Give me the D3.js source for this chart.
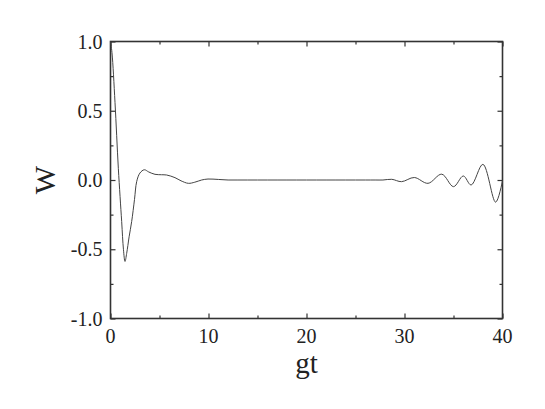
<!DOCTYPE html>
<html>
<head>
<meta charset="utf-8">
<script src="https://cdn.jsdelivr.net/npm/d3@7"></script>
<style>
  html, body { margin: 0; padding: 0; background: #fff; }
  svg { display: block; }
</style>
</head>
<body>
<svg id="chart" width="545" height="409"></svg>
<script>
// ---- data ----
const gt = [0, 0.15, 0.46, 0.8, 1.14, 1.32, 1.48, 1.65, 1.9, 2.16, 2.45, 2.67, 3.0, 3.45, 3.9, 4.54, 5.2, 5.73, 6.58, 7.2, 7.94, 8.6, 9.3, 9.95, 11, 12,
  13, 14, 15, 16, 17, 18, 19, 20, 21, 22, 23, 24, 25, 26, 27, 27.8, 28.7, 29.7, 31.0, 32.4, 33.8, 35.0, 36.0, 36.8, 38.0, 39.3, 40];
const W = [1.0, 0.92, 0.56, 0.084, -0.30, -0.50, -0.588, -0.53, -0.41, -0.30, -0.14, -0.012, 0.05, 0.074, 0.058, 0.041, 0.038, 0.036, 0.017, -0.006, -0.024, -0.016, 0.0, 0.007, 0.004, 0.0,
  0, 0, 0, 0, 0, 0, 0, 0, 0, 0, 0, 0, 0, 0, 0, 0.0, 0.005, -0.012, 0.018, -0.024, 0.042, -0.048, 0.029, -0.036, 0.113, -0.16, -0.005];
const xMajor = [0, 10, 20, 30, 40];
const xMinor = [5, 15, 25, 35];
const yMajor = [-1.0, -0.5, 0.0, 0.5, 1.0];
const yMinor = [-0.75, -0.25, 0.25, 0.75];
const xTickLabels = ["0", "10", "20", "30", "40"];
const yTickLabels = ["-1.0", "-0.5", "0.0", "0.5", "1.0"];
const xTitle = "gt";
const yTitle = "W";

// ---- layout ----
const L = 110.5, R = 502.5, T = 41.5, B = 318.5;
const FONT = "Liberation Serif";
const svg = d3.select("#chart");
const x = d3.scaleLinear().domain([0, 40]).range([L, R]);
const y = d3.scaleLinear().domain([-1, 1]).range([B, T]);

const axisColor = "#333";
function styleAxis(g) {
  g.select(".domain").remove();
  g.selectAll(".tick line").attr("stroke", axisColor).attr("stroke-width", 1.2);
  g.selectAll(".tick text").remove();
}
const axes = [
  [d3.axisBottom(x).tickValues(xMajor).tickSize(-5), `translate(0,${B})`],
  [d3.axisBottom(x).tickValues(xMinor).tickSize(-3), `translate(0,${B})`],
  [d3.axisTop(x).tickValues(xMajor).tickSize(-5), `translate(0,${T})`],
  [d3.axisTop(x).tickValues(xMinor).tickSize(-3), `translate(0,${T})`],
  [d3.axisLeft(y).tickValues(yMajor).tickSize(-5), `translate(${L},0)`],
  [d3.axisLeft(y).tickValues(yMinor).tickSize(-3), `translate(${L},0)`],
  [d3.axisRight(y).tickValues(yMajor).tickSize(-5), `translate(${R},0)`],
  [d3.axisRight(y).tickValues(yMinor).tickSize(-3), `translate(${R},0)`]
];
axes.forEach(([ax, tr]) => {
  svg.append("g").attr("transform", tr).call(ax.tickFormat("")).call(styleAxis);
});

// tick labels
svg.append("g").selectAll("text").data(xMajor).join("text")
  .attr("x", d => x(d)).attr("y", B + 24)
  .attr("text-anchor", "middle")
  .style("font-family", FONT).style("font-size", "20px").attr("fill", "#222")
  .text((d, i) => xTickLabels[i]);
svg.append("g").selectAll("text").data(yMajor).join("text")
  .attr("x", L - 8).attr("y", d => y(d) + 7)
  .attr("text-anchor", "end")
  .style("font-family", FONT).style("font-size", "20px").attr("fill", "#222")
  .text((d, i) => yTickLabels[i]);

// frame
svg.append("rect").attr("x", L).attr("y", T).attr("width", R - L).attr("height", B - T)
  .attr("fill", "none").attr("stroke", axisColor).attr("stroke-width", 1.6);

// curve
const pts = gt.map((g, i) => [g, W[i]]);
svg.append("path").datum(pts)
  .attr("fill", "none").attr("stroke", "#444").attr("stroke-width", 1)
  .attr("d", d3.line().x(d => x(d[0])).y(d => y(d[1])).curve(d3.curveCatmullRom.alpha(0.5)));

// titles
svg.append("text").attr("x", (L + R) / 2).attr("y", 373)
  .attr("text-anchor", "middle").style("font-family", FONT).style("font-size", "29px").attr("fill", "#222").text(xTitle);
svg.append("text").attr("transform", `translate(55,${(T + B) / 2}) rotate(-90)`)
  .attr("text-anchor", "middle").style("font-family", FONT).style("font-size", "30px").attr("fill", "#222").text(yTitle);
</script>
</body>
</html>
